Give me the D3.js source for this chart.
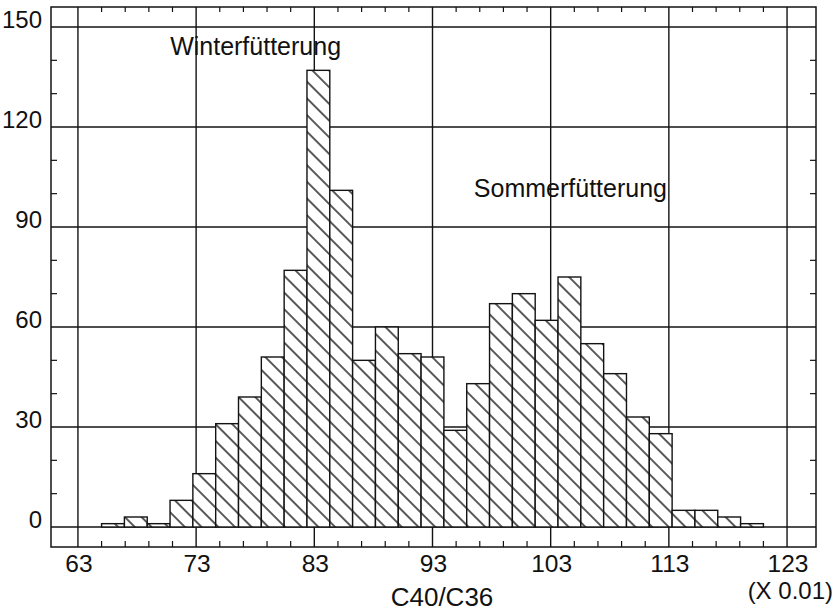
<!DOCTYPE html>
<html>
<head>
<meta charset="utf-8">
<script src="https://cdn.jsdelivr.net/npm/d3@7"></script>
<style>
  html, body { margin: 0; padding: 0; background: #fff; }
  svg { display: block; }
  text { font-family: "Liberation Sans", Arial, Helvetica, sans-serif; fill: #111; }
</style>
</head>
<body>
<svg id="chart" width="839" height="614"></svg>
<script>
// ---- data ----
const binLow = 65;          // lower limit of first class (x 0.01)
const binHigh = 121;        // upper limit of last class (x 0.01)
const counts = [1, 3, 1, 8, 16, 31, 39, 51, 77, 137, 101, 50, 60, 52, 51,
                29, 43, 67, 70, 62, 75, 55, 46, 33, 28, 5, 5, 3, 1];
const xTicks = [63, 73, 83, 93, 103, 113, 123];
const xMinorTicks = [65, 67, 69, 71, 75, 77, 79, 81, 85, 87, 89, 91, 95, 97, 99, 101,
                     105, 107, 109, 111, 115, 117, 119, 121];
const yTicks = [0, 30, 60, 90, 120, 150];
const yMinorTicks = [10, 20, 40, 50, 70, 80, 100, 110, 130, 140];
const annotations = [
  { text: "Winterfütterung", x: 70.8, y: 141.6 },
  { text: "Sommerfütterung", x: 96.5, y: 99.1 }
];
const xTitle = "C40/C36";
const xScaleNote = "(X 0.01)";

// ---- layout ----
const L = 51, R = 816, T = 7, B = 547;
const x = d3.scaleLinear().domain([60.72, 125.45]).range([L, R]);
const y = d3.scaleLinear().domain([-6, 156]).range([B, T]);

const svg = d3.select("#chart");
const ink = "#131313";

// hatch pattern
const defs = svg.append("defs");
const pat = defs.append("pattern")
  .attr("id", "hatch")
  .attr("patternUnits", "userSpaceOnUse")
  .attr("width", 12).attr("height", 11.8)
  .attr("patternTransform", "rotate(45)");
pat.append("rect").attr("width", 12).attr("height", 11.8).attr("fill", "#fff");
pat.append("line")
  .attr("x1", -1).attr("x2", 13).attr("y1", 5.9).attr("y2", 5.9)
  .attr("stroke", ink).attr("stroke-width", 1.4);

// gridlines
const grid = svg.append("g").attr("stroke", ink).attr("stroke-width", 1.4);
grid.selectAll("line.gx").data(xTicks).join("line")
  .attr("x1", d => x(d)).attr("x2", d => x(d))
  .attr("y1", T).attr("y2", B);
grid.selectAll("line.gy").data(yTicks).join("line")
  .attr("x1", L).attr("x2", R)
  .attr("y1", d => y(d)).attr("y2", d => y(d));

// bars
const n = counts.length;
const w = (binHigh - binLow) / n;
const bins = counts.map((c, i) => ({ x0: binLow + i * w, x1: binLow + (i + 1) * w, c }));
svg.append("g").selectAll("rect").data(bins).join("rect")
  .attr("x", d => x(d.x0))
  .attr("width", d => x(d.x1) - x(d.x0))
  .attr("y", d => y(d.c))
  .attr("height", d => y(0) - y(d.c))
  .attr("fill", "url(#hatch)")
  .attr("stroke", ink).attr("stroke-width", 1.4);

// frame
svg.append("rect")
  .attr("x", L).attr("y", T).attr("width", R - L).attr("height", B - T)
  .attr("fill", "none").attr("stroke", ink).attr("stroke-width", 1.5);

// minor ticks
const tk = svg.append("g").attr("stroke", ink).attr("stroke-width", 1.2);
const tl = 6;
tk.selectAll("line.bt").data(xMinorTicks).join("line")
  .attr("x1", d => x(d)).attr("x2", d => x(d)).attr("y1", B).attr("y2", B - tl);
tk.selectAll("line.tt").data(xMinorTicks).join("line")
  .attr("x1", d => x(d)).attr("x2", d => x(d)).attr("y1", T).attr("y2", T + tl - 1);
tk.selectAll("line.lt").data(yMinorTicks).join("line")
  .attr("x1", L).attr("x2", L + tl).attr("y1", d => y(d)).attr("y2", d => y(d));
tk.selectAll("line.rt").data(yMinorTicks).join("line")
  .attr("x1", R).attr("x2", R - tl).attr("y1", d => y(d)).attr("y2", d => y(d));

// tick labels
svg.append("g").selectAll("text").data(xTicks).join("text")
  .attr("x", d => x(d) + 1).attr("y", 572)
  .attr("text-anchor", "middle").attr("font-size", 24.5)
  .text(d => d);
svg.append("g").selectAll("text").data(yTicks).join("text")
  .attr("x", 42).attr("y", d => y(d) + 1)
  .attr("text-anchor", "end").attr("font-size", 24)
  .text(d => d);

// axis titles
svg.append("text").attr("x", 833).attr("y", 599)
  .attr("text-anchor", "end").attr("font-size", 24).text(xScaleNote);
svg.append("text").attr("x", 442).attr("y", 606)
  .attr("text-anchor", "middle").attr("font-size", 26).text(xTitle);

// annotations
svg.append("g").selectAll("text").data(annotations).join("text")
  .attr("x", d => x(d.x)).attr("y", d => y(d.y))
  .attr("font-size", 25)
  .text(d => d.text);
</script>
</body>
</html>
